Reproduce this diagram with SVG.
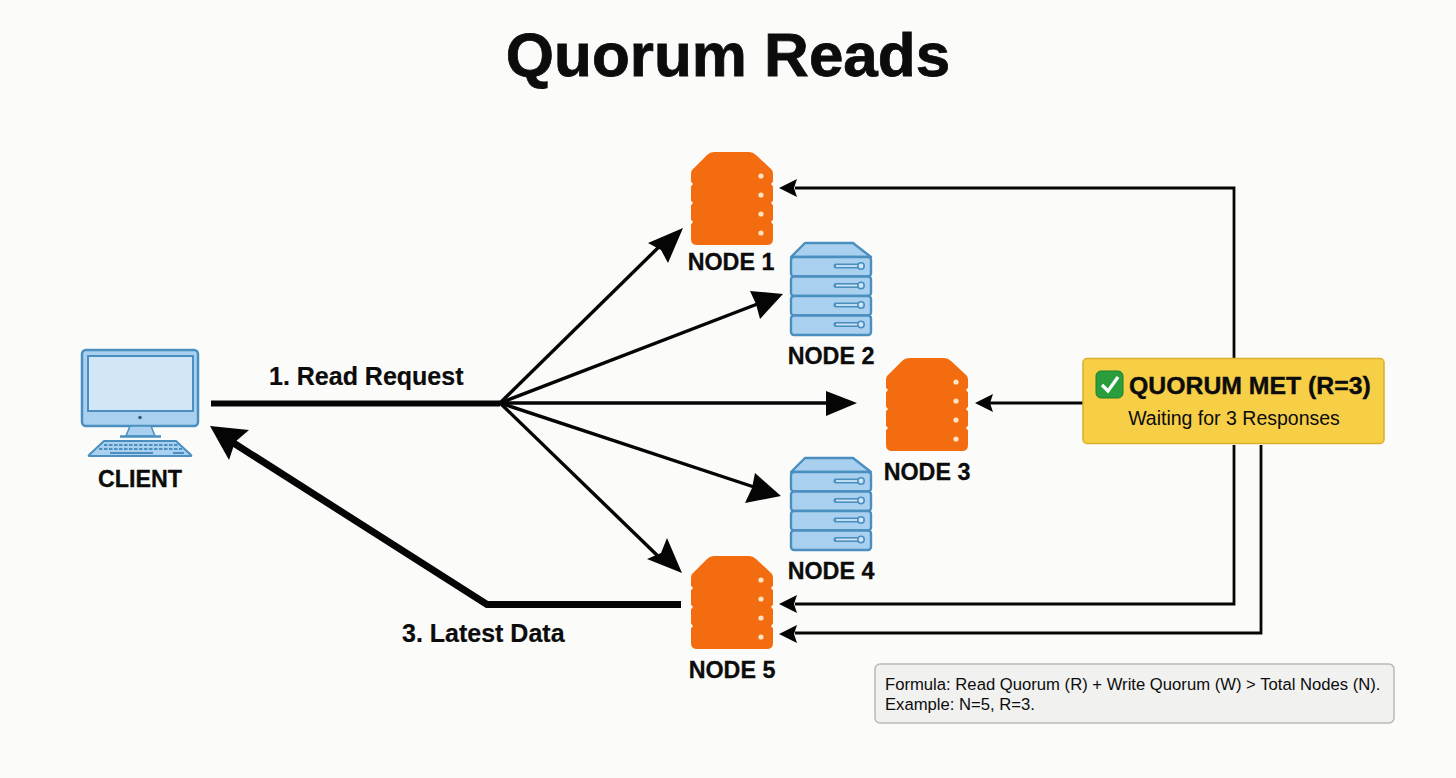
<svg xmlns="http://www.w3.org/2000/svg" xmlns:xlink="http://www.w3.org/1999/xlink" width="1456" height="778" viewBox="0 0 1456 778">
<style>
text{font-family:"Liberation Sans",Arial,sans-serif;fill:#0c0c0c}
.lbl{font-size:23.300px;font-weight:700;text-anchor:middle;stroke:#0c0c0c;stroke-width:.3}
.edge{font-size:25px;font-weight:700;stroke:#0c0c0c;stroke-width:.2}
.c{fill:none;stroke:#050505;stroke-linecap:butt;stroke-linejoin:miter}
.h{fill:#050505}
.blue{fill:#a9d0ee;stroke:#4a8fc0;stroke-width:2.400;stroke-linejoin:round}
</style>
<defs>
<g id="orange">
<path d="M-41,-24 Q-41,-28 -38,-30 L-25,-43 Q-22,-46 -18,-46 L17,-46 Q21,-46 24,-43 L38,-30 Q41,-28 41,-24 L41,41 Q41,47 35,47 L-35,47 Q-41,47 -41,41 Z" fill="#f36c10"/>
<path d="M-41.500,-17 l2.500,3 l-2.500,3 M41.500,-17 l-2.500,3 l2.500,3 M-41.500,2 l2.500,3 l-2.500,3 M41.500,2 l-2.500,3 l2.500,3 M-41.500,21 l2.500,3 l-2.500,3 M41.500,21 l-2.500,3 l2.500,3" fill="#fbf9f4"/>
<g fill="#fde3c4"><circle cx="29" cy="-22" r="2.600"/><circle cx="29" cy="-3" r="2.600"/><circle cx="29" cy="16" r="2.600"/><circle cx="29" cy="35" r="2.600"/></g>
</g>
<g id="blue">
<path class="blue" d="M-40,-29 L-26,-43 L22,-43 L40,-29 Z" fill="#b6d8f1"/>
<g id="tray"><rect class="blue" x="-40" y="-29" width="80" height="19.500" rx="3"/><path d="M5,-20 H30" stroke="#4a8fc0" stroke-width="5" stroke-linecap="round"/><path d="M5,-20 H30" stroke="#cfe5f5" stroke-width="1.800"/><circle cx="30" cy="-20" r="3.200" fill="#cfe5f5" stroke="#4a8fc0" stroke-width="1.600"/></g>
<use xlink:href="#tray" href="#tray" y="19.500"/>
<use xlink:href="#tray" href="#tray" y="39"/>
<use xlink:href="#tray" href="#tray" y="58.500"/>
</g>
</defs>
<rect width="1456" height="778" fill="#fbfbf9"/>
<text id="title" x="728" y="76" font-size="62" font-weight="700" text-anchor="middle" stroke="#0c0c0c" stroke-width=".8">Quorum Reads</text>

<g id="connectors">
<path class="c" stroke-width="6" d="M211,403.500 H500"/>
<g stroke-width="3.400" class="c">
<path d="M500,403 L668,238"/><path d="M500,403 L760,303"/><path d="M500,403 H830"/><path d="M500,403 L757,488"/><path d="M500,403 L662,560"/>
</g>
<g stroke-width="2.800" class="c">
<path d="M1234,358 V188 H795"/><path d="M1083,403 H990"/><path d="M1234,445 V604 H795"/><path d="M1261,445 V633 H795"/>
</g>
<path class="c" stroke-width="7" d="M681,604.500 H487 L232,442"/>
<g class="h">
<path d="M683,228 L668,263 L661,250 L648,243 Z"/>
<path d="M783,294 L760,319 L756,304 L750,291 Z"/>
<path d="M857,403 L826,391 L826,416 Z"/>
<path d="M781,496 L745,503 L752,488 L755,473 Z"/>
<path d="M682,573 L647,559 L661,553 L667,538 Z"/>
<path d="M779,188 L797,179 L794,188 L797,197 Z"/>
<path d="M975,403 L993,394 L990,403 L993,412 Z"/>
<path d="M779,604 L797,595 L794,604 L797,613 Z"/>
<path d="M779,634 L797,625 L794,634 L797,643 Z"/>
<path d="M210,426 L249,430 L235,442 L229,460 Z"/>
</g>
</g>
<text class="edge" x="269" y="385">1. Read Request</text>
<text class="edge" x="402" y="642">3. Latest Data</text>

<g id="client">
<rect x="82" y="350" width="116" height="76" rx="4" fill="#a9d0ee" stroke="#4a8fc0" stroke-width="2.500"/>
<rect x="88" y="356" width="105" height="55" fill="#d3e6f5" stroke="#4a8fc0" stroke-width="2"/>
<circle cx="140" cy="417.500" r="1.800" fill="#2f5f85"/>
<path d="M130,426 H151 L155,436 H126 Z" fill="#a9d0ee" stroke="#4a8fc0" stroke-width="1.500"/>
<path d="M120,436.500 H161" stroke="#4a8fc0" stroke-width="2.500"/>
<path d="M104,441 H176 L191,455 Q192,456 190,456 H90 Q88,456 89,455 Z" fill="#a9d0ee" stroke="#4a8fc0" stroke-width="2" stroke-linejoin="round"/>
<path d="M104,445 H178 M99,449 H182" stroke="#4a8fc0" stroke-width="2" stroke-dasharray="3.500 1.500"/>
<path d="M110,453 H153 M173,453 H184" stroke="#4a8fc0" stroke-width="1.800"/>
<text class="lbl" x="140" y="487">CLIENT</text>
</g>
<g id="node1"><use xlink:href="#orange" href="#orange" x="732" y="198"/><text class="lbl" x="731" y="270">NODE 1</text></g>
<g id="node2"><use xlink:href="#blue" href="#blue" x="831" y="286"/><text class="lbl" x="831" y="364">NODE 2</text></g>
<g id="node3"><use xlink:href="#orange" href="#orange" x="927" y="404"/><text class="lbl" x="927" y="480">NODE 3</text></g>
<g id="node4"><use xlink:href="#blue" href="#blue" x="831" y="501"/><text class="lbl" x="831" y="579">NODE 4</text></g>
<g id="node5"><use xlink:href="#orange" href="#orange" x="732" y="602"/><text class="lbl" x="732" y="678">NODE 5</text></g>

<g id="quorum">
<rect x="1083" y="358.500" width="301" height="85" rx="4" fill="#f6cf47" stroke="#dcae2e" stroke-width="1.500"/>
<rect x="1096" y="371" width="27" height="27" rx="5" fill="#2a9d3d" stroke="#1f7f30"/>
<path d="M1102,385 L1108,391 L1118,377" fill="none" stroke="#fff" stroke-width="3.200"/>
<text x="1129" y="394" font-size="24.800" font-weight="700" stroke="#0c0c0c" stroke-width=".4">QUORUM MET (R=3)</text>
<text x="1234" y="425" font-size="19.500" text-anchor="middle">Waiting for 3 Responses</text>
</g>
<g id="formula">
<rect x="875" y="664" width="519" height="59" rx="5" fill="#f1f1ef" stroke="#b9b9b6" stroke-width="1.500"/>
<text x="885" y="690" font-size="16.670">Formula: Read Quorum (R) + Write Quorum (W) &gt; Total Nodes (N).</text>
<text x="885" y="710" font-size="16.670">Example: N=5, R=3.</text>
</g>
</svg>
